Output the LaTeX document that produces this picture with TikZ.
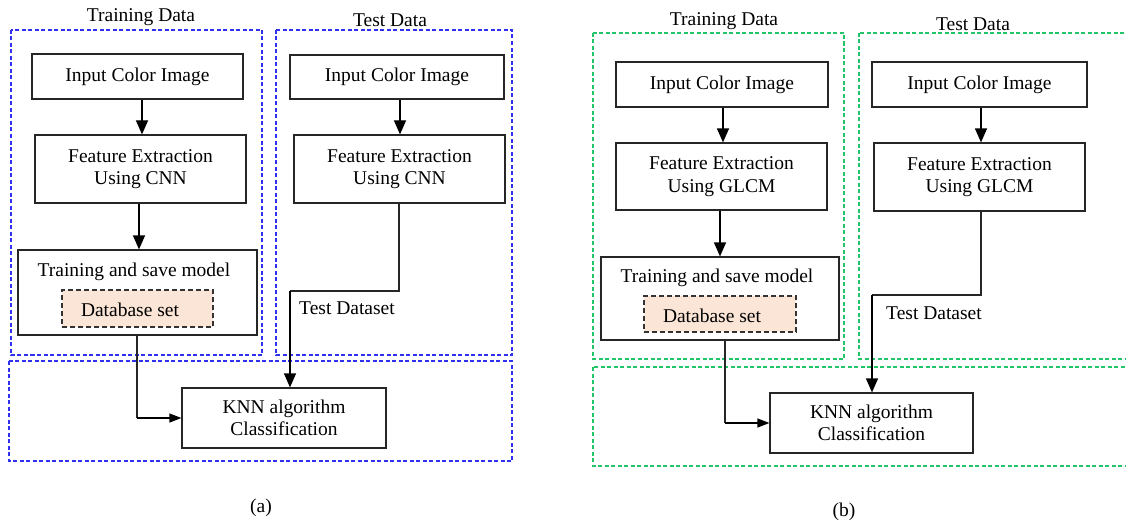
\documentclass[tikz,border=0pt]{standalone}
\usepackage{fontspec}
\setmainfont{Liberation Serif}
\usetikzlibrary{arrows.meta}
\definecolor{grpblue}{HTML}{3030F0}
\definecolor{grpgreen}{HTML}{22C46A}
\definecolor{peach}{HTML}{FBE5D6}
\begin{document}
\begin{tikzpicture}[x=1pt,y=-1pt,
  every node/.style={font=\fontsize{19.5}{22.5}\selectfont, text=black},
  box/.style={draw=black!85, line width=1.2pt, align=center, inner sep=0pt},
  dbbox/.style={draw=black!80, line width=1.1pt, dash pattern=on 5pt off 3pt, fill=peach, inner sep=0pt},
  grpa/.style={draw=grpblue, line width=1.1pt, dash pattern=on 4pt off 2.5pt},
  grpb/.style={draw=grpgreen, line width=1.1pt, dash pattern=on 4pt off 2.5pt},
  lbl/.style={inner sep=0pt},
  arr/.style={line width=1.2pt, draw=black, -{Triangle[length=14pt,width=12pt]}},
  harr/.style={line width=1.2pt, draw=black, -{Triangle[length=12pt,width=9pt]}},
  conn/.style={line width=1.2pt, draw=black!85}]
\useasboundingbox (0,0) rectangle (1126,524);
\clip (0,0) rectangle (1126,524);

% ---------- panel (a) ----------
\draw[grpa] (11,30) rectangle (262,355);
\draw[grpa] (276,30) rectangle (512,355);
\draw[grpa] (9,361) rectangle (512,461);
\node[lbl] (atrl) at (141,17) {Training Data};
\node[lbl] (atel) at (390,20) {Test Data};

\node[box, minimum width=211pt, minimum height=45pt] (aIn) at (137.5,76.5) {Input Color Image};
\node[box, minimum width=211pt, minimum height=68pt] (aFe) at (140.5,169) {Feature Extraction\\Using CNN};
\node[box, minimum width=239pt, minimum height=85pt] (aTr) at (137.5,292.5) {};
\node[lbl] (aTrT) at (134,272) {Training and save model};
\node[dbbox, minimum width=151pt, minimum height=37pt] (aDb) at (137.5,308.5) {};
\node[lbl] (aDbT) at (130,310) {Database set};
\node[box, minimum width=214pt, minimum height=44pt] (bIn) at (397,77) {Input Color Image};
\node[box, minimum width=211pt, minimum height=68pt] (bFe) at (399.5,169) {Feature Extraction\\Using CNN};
\node[box, minimum width=204pt, minimum height=60pt] (aKnn) at (284,418) {KNN algorithm\\Classification};
\node[lbl] (aTd) at (347,308) {Test Dataset};
\node[lbl] (acap) at (261,508) {(a)};

\coordinate (aT1) at (399,291);
\coordinate (aT2) at (290,291);
\coordinate (aR1) at (137,418);
\draw[arr] (142,0 |- aIn.south) -- (142,0 |- aFe.north);
\draw[arr] (139,0 |- aFe.south) -- (139,0 |- aTr.north);
\draw[arr] (400,0 |- bIn.south) -- (400,0 |- bFe.north);
\draw[conn] (399,0 |- bFe.south) -- (aT1) -- (aT2);
\draw[arr] (aT2) -- (aT2 |- aKnn.north);
\draw[conn] (137,0 |- aTr.south) -- (aR1);
\draw[harr] (aR1) -- (aKnn.west);

% ---------- panel (b) ----------
\draw[grpb] (593,33) rectangle (844,359);
\draw[grpb] (859,33) rectangle (1140,359);
\draw[grpb] (593,367) rectangle (1140,466);
\node[lbl] (btrl) at (724,21) {Training Data};
\node[lbl] (btel) at (973,24) {Test Data};

\node[box, minimum width=212pt, minimum height=45pt] (cIn) at (722,84.5) {Input Color Image};
\node[box, minimum width=211pt, minimum height=67pt] (cFe) at (721.5,176.5) {Feature Extraction\\Using GLCM};
\node[box, minimum width=238pt, minimum height=83pt] (cTr) at (720,298.5) {};
\node[lbl] (cTrT) at (717,278) {Training and save model};
\node[dbbox, minimum width=152pt, minimum height=36pt] (cDb) at (720,314) {};
\node[lbl] (cDbT) at (712,316) {Database set};
\node[box, minimum width=215pt, minimum height=45pt] (dIn) at (979.5,84.5) {Input Color Image};
\node[box, minimum width=211pt, minimum height=68pt] (dFe) at (979.5,177) {Feature Extraction\\Using GLCM};
\node[box, minimum width=203pt, minimum height=60pt] (bKnn) at (871.5,423) {KNN algorithm\\Classification};
\node[lbl] (bTd) at (934,313) {Test Dataset};
\node[lbl] (bcap) at (844,512) {(b)};

\coordinate (bT1) at (981,295);
\coordinate (bT2) at (872,295);
\coordinate (bR1) at (725,423);
\draw[arr] (723,0 |- cIn.south) -- (723,0 |- cFe.north);
\draw[arr] (720,0 |- cFe.south) -- (720,0 |- cTr.north);
\draw[arr] (981,0 |- dIn.south) -- (981,0 |- dFe.north);
\draw[conn] (981,0 |- dFe.south) -- (bT1) -- (bT2);
\draw[arr] (bT2) -- (bT2 |- bKnn.north);
\draw[conn] (725,0 |- cTr.south) -- (bR1);
\draw[harr] (bR1) -- (bKnn.west);
\end{tikzpicture}
\end{document}
